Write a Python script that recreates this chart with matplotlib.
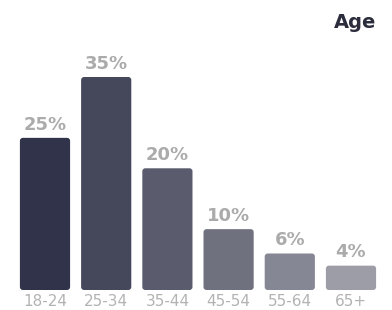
import matplotlib
matplotlib.use("Agg")
import matplotlib.pyplot as plt
from matplotlib.patches import FancyBboxPatch

categories = ["18-24", "25-34", "35-44", "45-54", "55-64", "65+"]
values = [25, 35, 20, 10, 6, 4]
labels = ["25%", "35%", "20%", "10%", "6%", "4%"]
colors = ["#31334a", "#45475b", "#5a5c6d", "#6f717f", "#868794", "#9d9da8"]
title = "Age"

plt.rcParams['font.family'] = ['DejaVu Sans']

W, H = 392, 310
fig = plt.figure(figsize=(W / 100, H / 100), dpi=100)
fig.patch.set_facecolor("white")

left_px, right_px = 14.4, 381.6
bottom_px, top_px = 290, 40
ax = fig.add_axes([left_px / W, (H - bottom_px) / H,
                   (right_px - left_px) / W, (bottom_px - top_px) / H])
ymax = 35 * (bottom_px - top_px) / 213.0
ax.set_xlim(-0.5, len(categories) - 0.5)
ax.set_ylim(0, ymax)

bars = ax.bar(range(len(categories)), values, width=0.82, color=colors)
x_per_px = len(categories) / (right_px - left_px)
y_per_px = ymax / (bottom_px - top_px)
r = 3 * x_per_px
for b, c in zip(bars, colors):
    b.set_visible(False)
    p = FancyBboxPatch((b.get_x(), b.get_y()), b.get_width(), b.get_height(),
                       boxstyle=f"round,pad=0,rounding_size={r}",
                       mutation_aspect=y_per_px / x_per_px,
                       facecolor=c, edgecolor="none")
    ax.add_patch(p)

for i, (v, lab) in enumerate(zip(values, labels)):
    ax.annotate(lab, (i, v), xytext=(0, 6), textcoords="offset points",
                ha="center", va="baseline", fontsize=13, fontweight="bold",
                color="#ababab")

ax.set_xticks(range(len(categories)))
ax.set_xticklabels(categories, fontsize=11, color="#b3b3b3")
ax.tick_params(axis="x", length=0, pad=3)
ax.set_yticks([])
for s in ax.spines.values():
    s.set_visible(False)

fig.text(376 / W, 1 - 28 / H, title, ha="right", va="baseline",
         fontsize=14, fontweight="bold", color="#2b2d3d")

fig.savefig("out.png", dpi=100, facecolor="white")
